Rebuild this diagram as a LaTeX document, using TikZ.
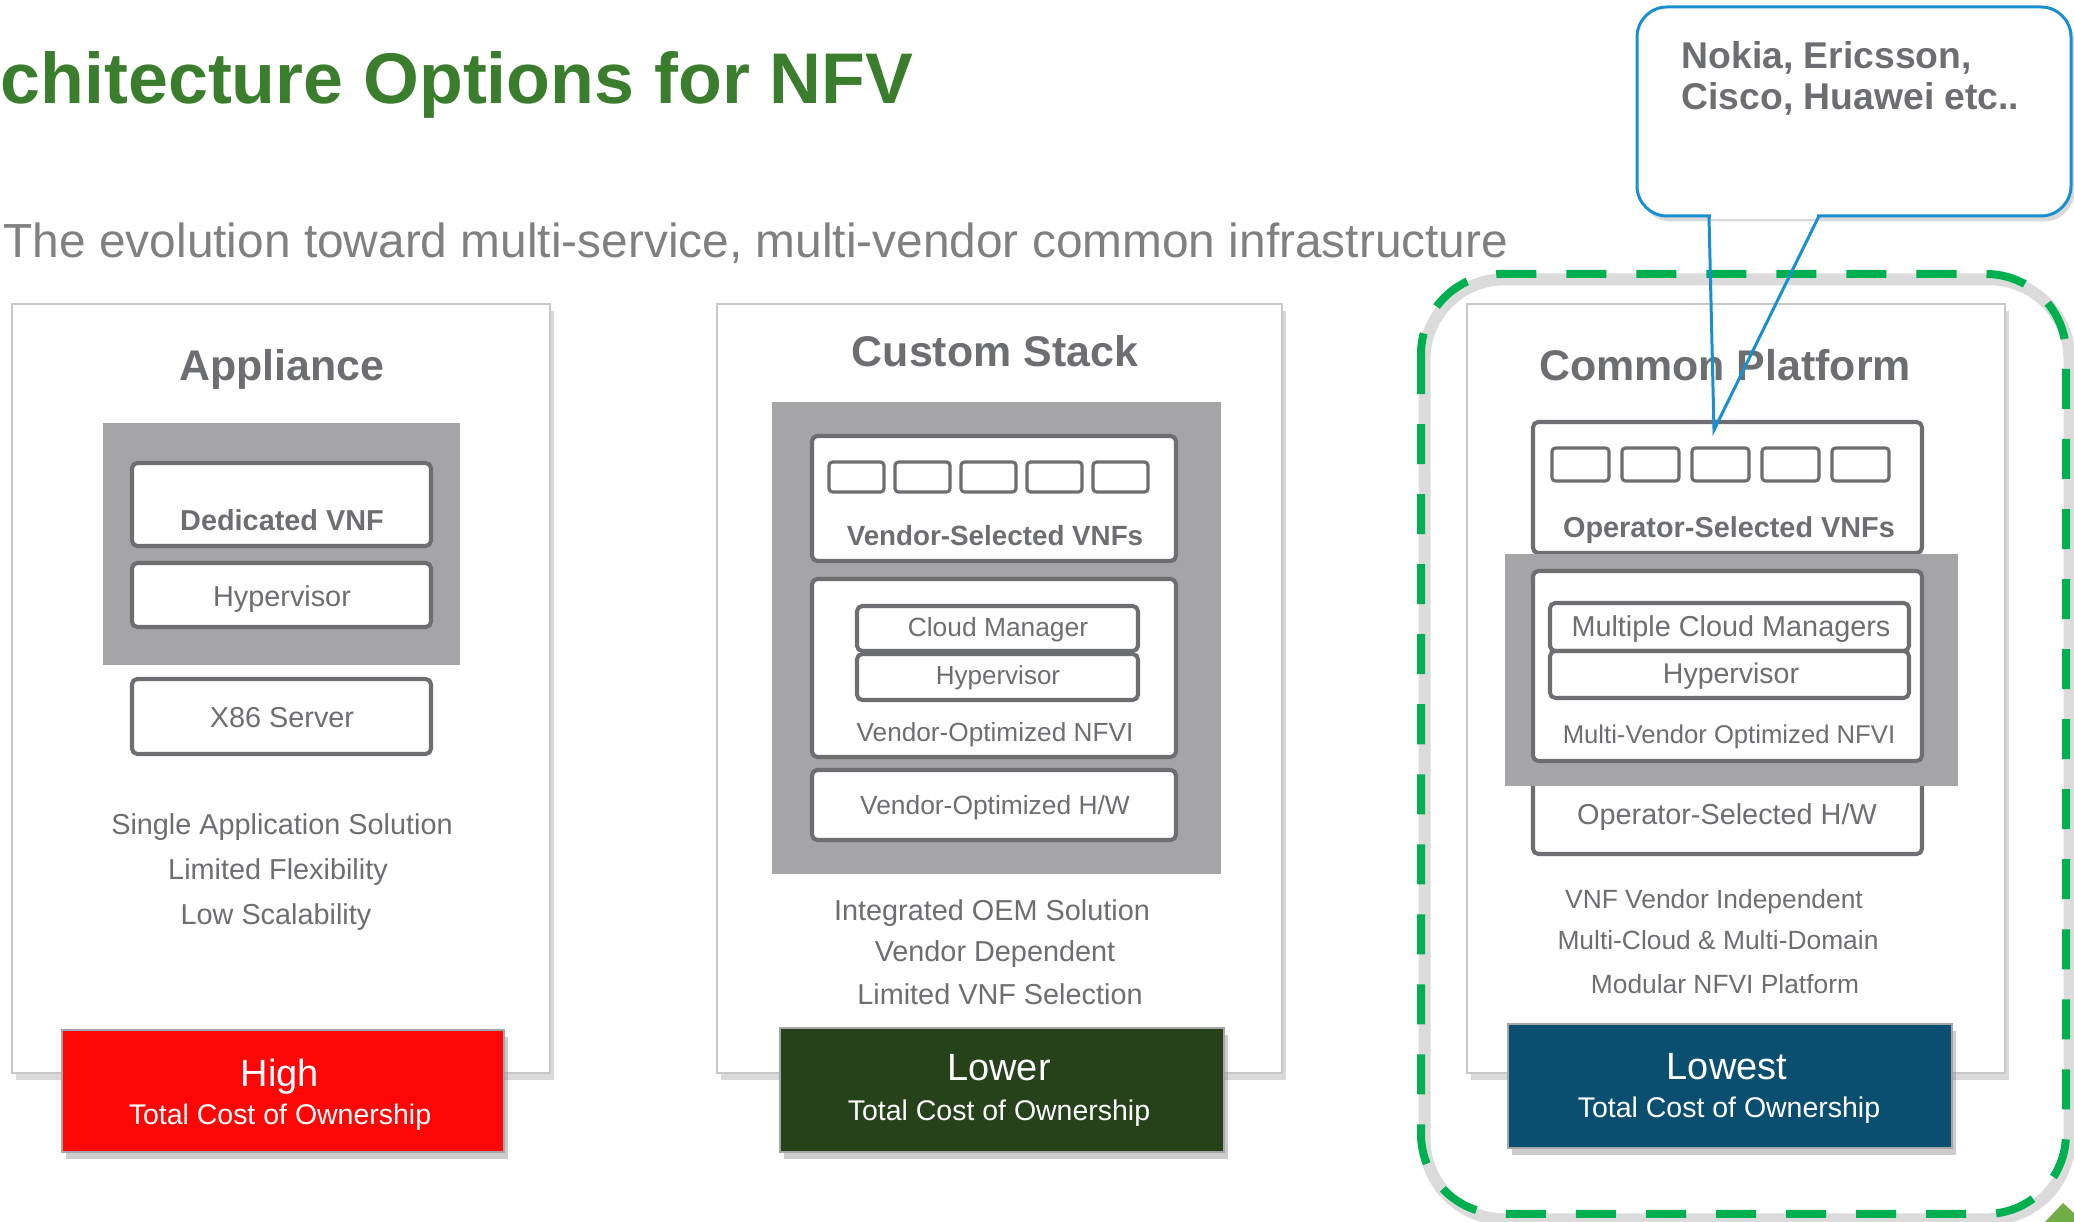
\documentclass[tikz,border=0pt]{standalone}
\usepackage{fontspec}
\setmainfont{Liberation Sans}
\usetikzlibrary{shadows}
\definecolor{ttlgreen}{HTML}{3A7D2C}
\definecolor{subgray}{HTML}{808080}
\definecolor{txtgray}{HTML}{6D6E71}
\definecolor{blockgray}{HTML}{A5A5A7}
\definecolor{panelline}{HTML}{C8C8C8}
\definecolor{highred}{HTML}{FF0505}
\definecolor{lowergreen}{HTML}{26421B}
\definecolor{lowestblue}{HTML}{0A4F70}
\definecolor{callblue}{HTML}{1890D0}
\definecolor{dashgreen}{HTML}{00B050}
\definecolor{cornergreen}{HTML}{70AD47}
\def\dashframe{(1421,274) rectangle (2066,1214)}
\def\calloutbox{(1637,7) rectangle (2071,216)}
\tikzset{
  panel/.style={fill=white, draw=panelline, line width=0.6pt, drop shadow={shadow xshift=1.2pt, shadow yshift=-2pt, opacity=0.3}},
  layer/.style={fill=white, draw=txtgray, line width=1.15pt, rounded corners=1.5pt},
  slot/.style={fill=white, draw=txtgray, line width=0.9pt, rounded corners=1pt},
  costbar/.style={draw=black!35, line width=0.4pt, drop shadow={shadow xshift=1pt, shadow yshift=-2pt, opacity=0.4}},
  title/.style={font=\bfseries\fontsize{20.4}{24}\selectfont, text=ttlgreen, inner sep=0pt, anchor=base west},
  sub/.style={font=\fontsize{13.6}{16}\selectfont, text=subgray, inner sep=0pt, anchor=base west},
  hd/.style={font=\bfseries\fontsize{12.2}{14}\selectfont, text=txtgray, inner sep=0pt, anchor=base},
  boldlbl/.style={font=\bfseries\fontsize{#1}{10}\selectfont, text=txtgray, inner sep=0pt, anchor=base},
  lbl/.style={font=\fontsize{#1}{10}\selectfont, text=txtgray, inner sep=0pt, anchor=base},
  cost/.style={font=\fontsize{10.8}{12}\selectfont, text=white, inner sep=0pt, anchor=base},
  tco/.style={font=\fontsize{8.1}{10}\selectfont, text=white, inner sep=0pt, anchor=base},
  note/.style={font=\bfseries\fontsize{10.6}{12}\selectfont, text=txtgray, inner sep=0pt, anchor=base west}
}
\begin{document}
\begin{tikzpicture}[x=0.01cm,y=-0.01cm]
\useasboundingbox (0,0) rectangle (2074,1222);
\node[title] (ttl) at (0,104) {chitecture Options for NFV};
\node[sub] (subttl) at (3,258) {The evolution toward multi-service, multi-vendor common infrastructure};

\draw[black!40, opacity=0.35, line width=0.12cm, rounded corners=0.8cm, xshift=1pt, yshift=-1.5pt] \dashframe;
\draw[dashgreen, line width=0.08cm, rounded corners=0.8cm, dash pattern=on 0.4cm off 0.3cm] \dashframe;

\draw[panel] (12,304) rectangle (550,1073);
\draw[panel] (717,304) rectangle (1282,1073);
\draw[panel] (1467,304) rectangle (2005,1073);

\node[hd] (appl) at (282,381) {Appliance};
\fill[blockgray] (103,423) rectangle (460,665);
\draw[layer] (132,463) rectangle (431,546);
\draw[layer] (132,563) rectangle (431,627);
\draw[layer] (132,679) rectangle (431,754);
\node[boldlbl=8.2] (dvnf) at (282,531) {Dedicated VNF};
\node[lbl=8.2] (hypa) at (282,607) {Hypervisor};
\node[lbl=8.2] (x86) at (282,728) {X86 Server};
\node[lbl=8.2] (appla) at (282,835) {Single Application Solution};
\node[lbl=8.2] (applb) at (278,880) {Limited Flexibility};
\node[lbl=8.2] (applc) at (276,925) {Low Scalability};
\fill[highred, costbar] (62,1030) rectangle (504,1152);
\node[cost] (high) at (280,1087) {High};
\node[tco] (tcoa) at (280,1125) {Total Cost of Ownership};

\node[hd] (cust) at (995,367) {Custom Stack};
\fill[blockgray] (772,402) rectangle (1221,874);
\draw[layer] (812,436) rectangle (1176,561);
\foreach \i in {0,...,4}
  \draw[slot] ({829+66*\i},462) rectangle ++(55,30);
\node[boldlbl=7.9] (vsel) at (995,546) {Vendor-Selected VNFs};
\draw[layer] (812,579) rectangle (1176,757);
\draw[layer] (857,606) rectangle (1138,651);
\draw[layer] (857,654) rectangle (1138,700);
\node[lbl=7.5] (cmgr) at (998,637) {Cloud Manager};
\node[lbl=7.4] (hypb) at (998,685) {Hypervisor};
\node[lbl=7.45] (vnfvi) at (995,742) {Vendor-Optimized NFVI};
\draw[layer] (812,770) rectangle (1176,840);
\node[lbl=7.5] (vhw) at (995,815) {Vendor-Optimized H/W};
\node[lbl=8.2] (custa) at (992,921) {Integrated OEM Solution};
\node[lbl=8.2] (custb) at (995,962) {Vendor Dependent};
\node[lbl=8.2] (custc) at (1000,1005) {Limited VNF Selection};
\fill[lowergreen, costbar] (780,1028) rectangle (1224,1152);
\node[cost] (lower) at (999,1081) {Lower};
\node[tco] (tcob) at (999,1121) {Total Cost of Ownership};

\node[hd] (comm) at (1725,381) {Common Platform};
\draw[layer] (1533,422) rectangle (1922,553);
\foreach \i in {0,...,4}
  \draw[slot] ({1552+70*\i},448) rectangle ++(57,33);
\node[boldlbl=8.2] (osel) at (1729,538) {Operator-Selected VNFs};
\draw[layer] (1533,770) rectangle (1922,854);
\fill[blockgray] (1505,554) rectangle (1958,786);
\draw[layer] (1533,571) rectangle (1922,761);
\draw[layer] (1550,603) rectangle (1909,651);
\draw[layer] (1550,651) rectangle (1909,698);
\node[lbl=8.2] (mcm) at (1731,637) {Multiple Cloud Managers};
\node[lbl=8.1] (hypc) at (1731,684) {Hypervisor};
\node[lbl=7.3] (mvnfvi) at (1729,744) {Multi-Vendor Optimized NFVI};
\node[lbl=8.2] (ohw) at (1727,825) {Operator-Selected H/W};
\node[lbl=7.5] (comma) at (1714,909) {VNF Vendor Independent};
\node[lbl=7.5] (commb) at (1718,950) {Multi-Cloud \& Multi-Domain};
\node[lbl=7.5] (commc) at (1725,994) {Modular NFVI Platform};
\fill[lowestblue, costbar] (1508,1024) rectangle (1952,1148);
\node[cost] (lowest) at (1727,1080) {Lowest};
\node[tco] (tcoc) at (1729,1118) {Total Cost of Ownership};

\filldraw[fill=white, draw=callblue, line width=0.85pt, rounded corners=0.3cm, drop shadow={shadow xshift=1pt, shadow yshift=-1.5pt, opacity=0.3}] \calloutbox;
\draw[white, line width=1.6pt] (1711,216) -- (1817,216);
\coordinate (tip) at (1714,430);
\draw[callblue, line width=0.85pt, line join=miter] (1709,216) -- (tip) -- (1819,216);
\node[note] (vend1) at (1681,69) {Nokia, Ericsson,};
\node[note] (vend2) at (1681,110) {Cisco, Huawei etc..};

\fill[cornergreen] (2045,1222) -- (2063,1203) -- (2074,1213) -- (2074,1222) -- cycle;
\end{tikzpicture}
\end{document}
